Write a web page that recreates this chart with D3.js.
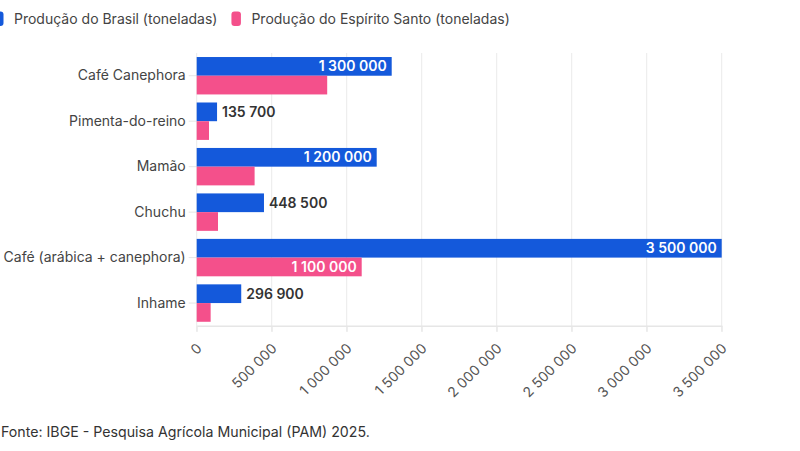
<!DOCTYPE html>
<html>
<head>
<meta charset="utf-8">
<script src="https://cdn.jsdelivr.net/npm/d3@7"></script>
<style>
  body { margin: 0; background: #fff; }
  svg { display: block; font-family: Inter, "Noto Sans", sans-serif; }
</style>
</head>
<body>
<div id="chart"></div>
<script>
const categories = ["Café Canephora", "Pimenta-do-reino", "Mamão", "Chuchu", "Café (arábica + canephora)", "Inhame"];
const seriesNames = ["Produção do Brasil (toneladas)", "Produção do Espírito Santo (toneladas)"];
const brasil = [1300000, 135700, 1200000, 448500, 3500000, 296900];
const espiritoSanto = [870000, 82000, 386000, 142000, 1100000, 93000];
const labelsBrasil = [true, true, true, true, true, true];
const labelsES = [false, false, false, false, true, false];
const xTicks = [0, 500000, 1000000, 1500000, 2000000, 2500000, 3000000, 3500000];
const colors = ["#1459db", "#f4508b"];
const sourceText = "Fonte: IBGE - Pesquisa Agrícola Municipal (PAM) 2025.";

const W = 800, H = 451;
const plot = { left: 196.7, right: 721.7, top: 53, bottom: 325.8 };

const locale = d3.formatLocale({ decimal: ",", thousands: "\u00A0", grouping: [3], currency: ["R$", ""] });
const fmt = locale.format(",d");

const svg = d3.select("#chart").append("svg")
    .attr("width", W)
    .attr("height", H);

const x = d3.scaleLinear().domain([0, 3500000]).range([plot.left, plot.right]);
const y = d3.scaleBand().domain(categories).range([plot.top, plot.bottom])
    .paddingInner(0.177).paddingOuter(0.0885);
const ySub = d3.scaleBand().domain([0, 1]).range([0, y.bandwidth()]);

// grid
svg.append("g")
  .selectAll("line")
  .data(xTicks)
  .join("line")
    .attr("x1", d => x(d)).attr("x2", d => x(d))
    .attr("y1", plot.top).attr("y2", plot.bottom + 6)
    .attr("stroke", "#ebebeb")
    .attr("stroke-width", 1);

// x axis
const xAxis = svg.append("g")
    .attr("transform", `translate(0,${plot.bottom})`)
    .call(d3.axisBottom(x).tickValues(xTicks).tickFormat(fmt).tickSize(6).tickSizeOuter(0));
xAxis.select(".domain").attr("stroke", "#e6e6e6").attr("stroke-width", 1.5);
xAxis.selectAll(".tick line").attr("stroke", "#e6e6e6");
xAxis.selectAll(".tick text")
    .attr("fill", "#555")
    .style("font-size", "14px")
    .style("font-family", "Inter")
    .attr("text-anchor", "end")
    .attr("x", 0).attr("y", 0)
    .attr("dy", "0.35em")
    .attr("transform", "translate(2,20) rotate(-45)");

// y axis
const yAxis = svg.append("g")
    .attr("transform", `translate(${plot.left},0)`)
    .call(d3.axisLeft(y).tickSize(8).tickPadding(3).tickSizeOuter(0));
yAxis.select(".domain").remove();
yAxis.selectAll(".tick line").attr("stroke", "#e6e6e6");
yAxis.selectAll(".tick text")
    .attr("fill", "#444")
    .style("font-size", "14px")
    .style("font-family", "Inter");

// bars
const rows = categories.map((c, i) => ({
  cat: c,
  vals: [
    { s: 0, v: brasil[i], label: labelsBrasil[i] },
    { s: 1, v: espiritoSanto[i], label: labelsES[i] }
  ]
}));

const group = svg.append("g")
  .selectAll("g")
  .data(rows)
  .join("g")
    .attr("transform", d => `translate(0,${y(d.cat)})`);

group.selectAll("rect")
  .data(d => d.vals)
  .join("rect")
    .attr("x", x(0))
    .attr("y", d => ySub(d.s))
    .attr("width", d => x(d.v) - x(0))
    .attr("height", ySub.bandwidth())
    .attr("fill", d => colors[d.s]);

group.selectAll("text")
  .data(d => d.vals.filter(v => v.label))
  .join("text")
    .attr("y", d => ySub(d.s) + ySub.bandwidth() / 2)
    .attr("dy", "0.36em")
    .style("font-size", "14px")
    .style("font-weight", "600")
    .text(d => fmt(d.v))
    .each(function(d) {
      const t = d3.select(this);
      const w = this.getComputedTextLength();
      const barW = x(d.v) - x(0);
      if (barW > w + 25) {
        t.attr("x", x(d.v) - 5).attr("text-anchor", "end").attr("fill", "#fff");
      } else {
        t.attr("x", x(d.v) + 5).attr("text-anchor", "start").attr("fill", "#333");
      }
    });

// legend
const legend = svg.append("g");
let lx = -6;
seriesNames.forEach((name, i) => {
  legend.append("rect")
      .attr("x", lx).attr("y", 11.5)
      .attr("width", 9.5).attr("height", 14.5)
      .attr("rx", 3)
      .attr("fill", colors[i]);
  const t = legend.append("text")
      .attr("x", lx + 20).attr("y", 24)
      .attr("fill", "#444")
      .style("font-size", "14px")
      .text(name);
  lx += 20 + t.node().getComputedTextLength() + 14;
});

// source
svg.append("text")
    .attr("x", 1).attr("y", 437)
    .attr("fill", "#333")
    .style("font-size", "14.2px")
    .text(sourceText);
</script>
</body>
</html>
